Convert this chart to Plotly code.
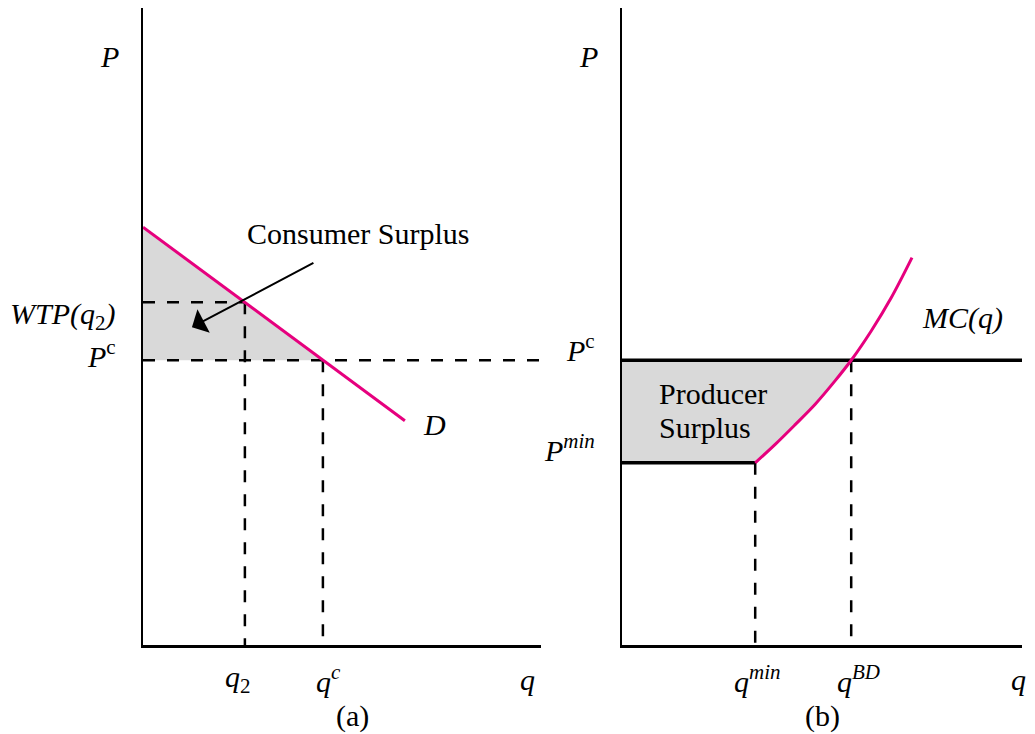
import plotly.graph_objects as go

# ---------------- data ----------------
# Panel (a): demand and consumer surplus
demand_q = [0.0, 6.58]
demand_p = [6.56, 3.52]
q2 = 2.56
wtp_q2 = 5.38
qc = 4.52
pc = 4.47
arrow_tip = (1.23, 4.99)
arrow_tail = (4.32, 6.01)

# Panel (b): marginal cost and producer surplus
mc_q = [3.33, 3.83, 4.33, 4.83, 5.33, 5.73, 6.23, 6.73, 7.25]
mc_p = [2.86, 3.15, 3.46, 3.78, 4.15, 4.47, 4.93, 5.45, 6.08]
p_min = 2.86
q_min = 3.33
q_bd = 5.73

# ---------------- styling ----------------
W, H = 1035, 734
PINK = "#E6007E"
GRAY = "#D9D9D9"
FONT = "Liberation Serif, Times New Roman, serif"
FS = 30
DASH = "12px,12px"


def px_x(p):
    return p / W


def px_y(p):
    return 1 - p / H


fig = go.Figure()

# ---- panel (a) ----
fig.add_trace(go.Scatter(
    x=[0, qc, 0, 0], y=[demand_p[0], pc, pc, demand_p[0]],
    fill="toself", fillcolor=GRAY, line=dict(width=0), mode="lines",
    xaxis="x", yaxis="y", hoverinfo="skip"))
fig.add_trace(go.Scatter(x=[0, 10], y=[pc, pc], mode="lines",
                         line=dict(color="black", width=2.5, dash=DASH), xaxis="x", yaxis="y"))
fig.add_trace(go.Scatter(x=[0, q2], y=[wtp_q2, wtp_q2], mode="lines",
                         line=dict(color="black", width=2.5, dash=DASH), xaxis="x", yaxis="y"))
fig.add_trace(go.Scatter(x=[q2, q2], y=[wtp_q2, 0], mode="lines",
                         line=dict(color="black", width=2.5, dash=DASH), xaxis="x", yaxis="y"))
fig.add_trace(go.Scatter(x=[qc, qc], y=[pc, 0], mode="lines",
                         line=dict(color="black", width=2.5, dash=DASH), xaxis="x", yaxis="y"))
fig.add_trace(go.Scatter(x=demand_q, y=demand_p, mode="lines",
                         line=dict(color=PINK, width=3), xaxis="x", yaxis="y"))

# ---- panel (b) ----
fill_q = [0] + [q for q in mc_q if q <= q_bd][::-1] + [0, 0]
fill_p = [pc] + [p for q, p in zip(mc_q, mc_p) if q <= q_bd][::-1] + [p_min, pc]
fig.add_trace(go.Scatter(x=fill_q, y=fill_p, fill="toself", fillcolor=GRAY,
                         line=dict(width=0), mode="lines", xaxis="x2", yaxis="y2", hoverinfo="skip"))
fig.add_trace(go.Scatter(x=[q_min, q_min], y=[p_min, 0], mode="lines",
                         line=dict(color="black", width=2.5, dash=DASH), xaxis="x2", yaxis="y2"))
fig.add_trace(go.Scatter(x=[q_bd, q_bd], y=[pc, 0], mode="lines",
                         line=dict(color="black", width=2.5, dash=DASH), xaxis="x2", yaxis="y2"))
fig.add_trace(go.Scatter(x=[0, 10], y=[pc, pc], mode="lines",
                         line=dict(color="black", width=3.5), xaxis="x2", yaxis="y2"))
fig.add_trace(go.Scatter(x=[0, q_min], y=[p_min, p_min], mode="lines",
                         line=dict(color="black", width=3.5), xaxis="x2", yaxis="y2"))
fig.add_trace(go.Scatter(x=mc_q, y=mc_p, mode="lines",
                         line=dict(color=PINK, width=3, shape="spline", smoothing=1),
                         xaxis="x2", yaxis="y2"))

axis_common = dict(range=[0, 10], showgrid=False, zeroline=False, showticklabels=False,
                   ticks="", showline=True, linecolor="black", linewidth=2.5, fixedrange=True)
ydom = [px_y(645), px_y(8)]

fig.update_layout(
    width=W, height=H, margin=dict(l=0, r=0, t=0, b=0),
    paper_bgcolor="white", plot_bgcolor="white", showlegend=False,
    font=dict(family=FONT, size=FS, color="black"),
    xaxis=dict(domain=[px_x(143), px_x(541)], anchor="y", **axis_common),
    yaxis=dict(domain=ydom, anchor="x", **axis_common),
    xaxis2=dict(domain=[px_x(622), px_x(1022)], anchor="y2", **axis_common),
    yaxis2=dict(domain=ydom, anchor="x2", **axis_common),
)

ann = []


def label(text, x, y, xref="paper", yref="paper", xanchor="center", xshift=0, yshift=0):
    ann.append(dict(text=text, x=x, y=y, xref=xref, yref=yref, xanchor=xanchor,
                    yanchor="middle", xshift=xshift, yshift=yshift, showarrow=False,
                    font=dict(family=FONT, size=FS, color="black")))


# panel (a) labels
label("<i>P</i>", px_x(109), px_y(57))
label("Consumer Surplus", px_x(245), px_y(234), xanchor="left")
label("<i>WTP(q</i><sub>2</sub><i>)</i>", 0, wtp_q2, "x", "y", "right", xshift=-25, yshift=-14)
label("<i>P</i><sup>c</sup>", 0, pc, "x", "y", "right", xshift=-25, yshift=6)
label("<i>D</i>", demand_q[1], demand_p[1], "x", "y", "left", xshift=16, yshift=-4)
label("<i>q</i><sub>2</sub>", q2, 0, "x", "y", "center", xshift=-7, yshift=-34)
label("<i>q</i><sup><i>c</i></sup>", qc, 0, "x", "y", "center", xshift=6, yshift=-34)
label("<i>q</i>", 10, 0, "x", "y", "center", xshift=-14, yshift=-34)
label("(a)", px_x(352), px_y(716))

# panel (b) labels
label("<i>P</i>", px_x(588), px_y(57))
label("<i>P</i><sup>c</sup>", 0, pc, "x2", "y2", "right", xshift=-25, yshift=12)
label("<i>P</i><sup><i>min</i></sup>", 0, p_min, "x2", "y2", "right", xshift=-25, yshift=15)
label("<i>MC(q)</i>", px_x(920), px_y(318), xanchor="left")
label("Producer", px_x(657), px_y(393), xanchor="left")
label("Surplus", px_x(657), px_y(428), xanchor="left")
label("<i>q</i><sup><i>min</i></sup>", q_min, 0, "x2", "y2", "center", xshift=2, yshift=-34)
label("<i>q</i><sup><i>BD</i></sup>", q_bd, 0, "x2", "y2", "center", xshift=7, yshift=-34)
label("<i>q</i>", 10, 0, "x2", "y2", "center", xshift=-4, yshift=-34)
label("(b)", px_x(822), px_y(716))

# arrow pointing into consumer surplus
ann.append(dict(x=arrow_tip[0], y=arrow_tip[1], ax=arrow_tail[0], ay=arrow_tail[1],
                xref="x", yref="y", axref="x", ayref="y", text="", showarrow=True,
                arrowhead=1, arrowsize=2.2, arrowwidth=2, arrowcolor="black"))

fig.update_layout(annotations=ann)
fig.write_html(
    "out.html",
    config={"displayModeBar": False, "staticPlot": True},
    post_script="document.body.style.margin='0';document.body.style.overflow='hidden';",
)
